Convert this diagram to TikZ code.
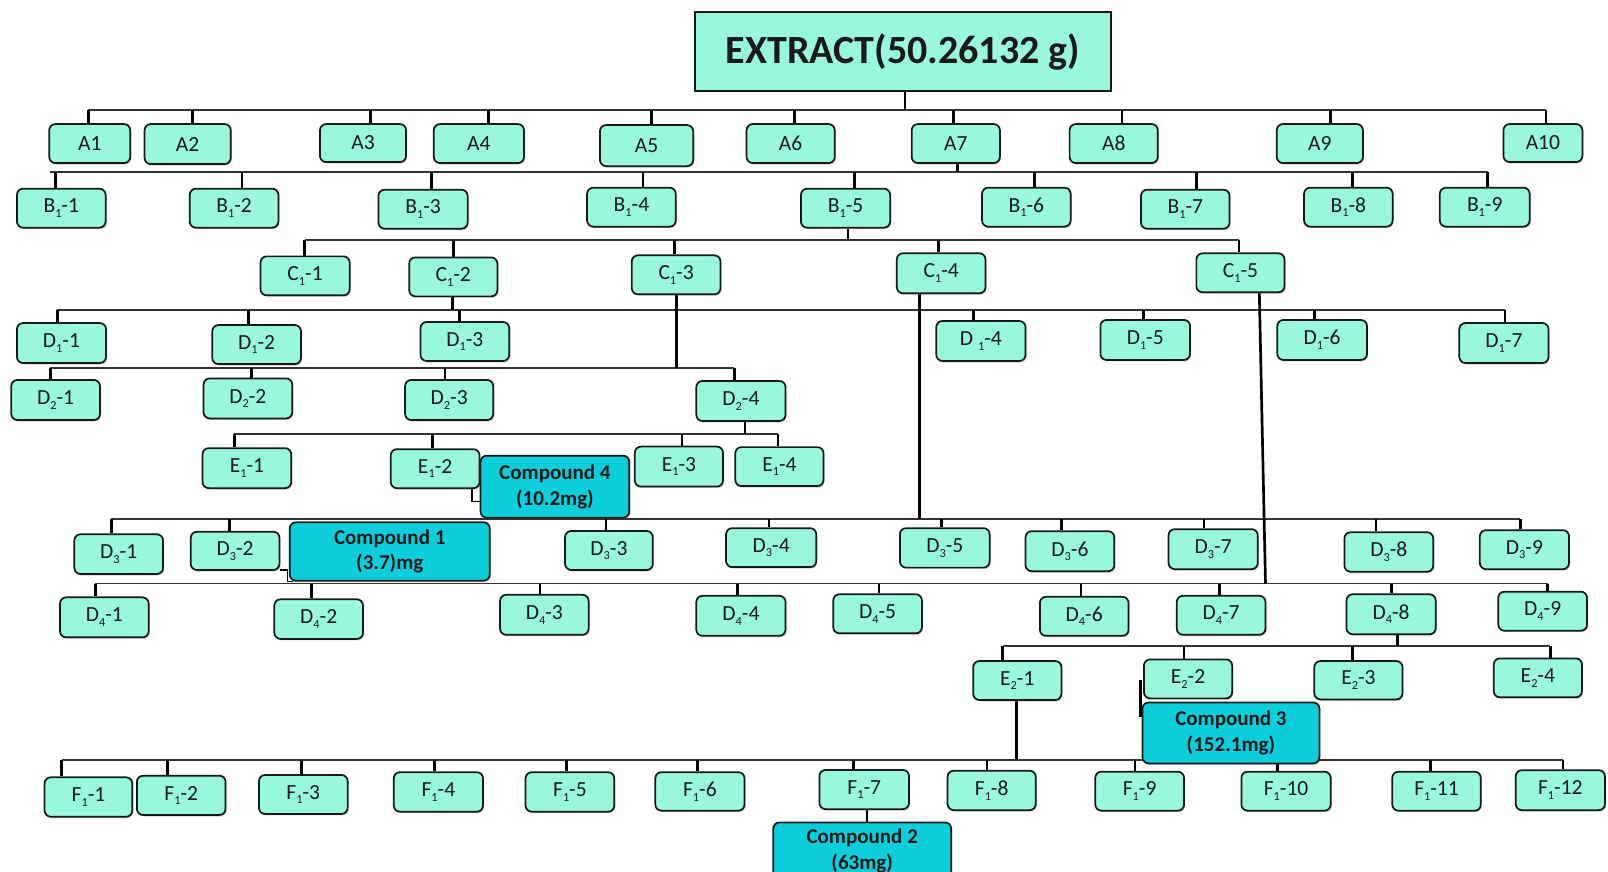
\documentclass[tikz,border=0pt]{standalone}
\usepackage{fontspec}
\setmainfont{Carlito}
\usetikzlibrary{shadows}
\pgfdeclarelayer{bg}
\pgfsetlayers{bg,main}
\definecolor{aqua}{RGB}{152,247,220}
\definecolor{cmpd}{RGB}{12,206,218}
\definecolor{ink}{RGB}{25,25,25}
\tikzset{
 box/.style={draw=ink, line width=1.7pt, rounded corners=6pt, fill=aqua, inner sep=0pt,
   font=\fontsize{21}{24}\selectfont, text=ink,
   drop shadow={shadow xshift=1pt, shadow yshift=-1.5pt, fill=black!60, opacity=0.3}},
 cbox/.style={box, fill=cmpd, font=\bfseries\fontsize{20.5}{25}\selectfont, align=center},
 bus/.style={line width=1.8pt, draw=black!80},
 stub/.style={line width=2.6pt, draw=black},
 link/.style={line width=1.6pt, draw=black},
}
\newcommand\sbs[1]{\raisebox{-0.45ex}{\fontsize{12}{12}\selectfont #1}}
\newcommand\bx[7][box]{\node[#1, minimum width={#5-#3}, minimum height={#6-#4}] (#2) at ({(#3+#5)/2},{(#4+#6)/2}) {#7};}
\newcommand\kid[3]{\path ([xshift=#2]#1.north) coordinate (kk); \draw[stub] (kk) -- (kk |- #3);}
\newcommand\stm[3]{\path ([xshift=#2]#1.south) coordinate (ss); \draw[stub] (ss) -- (ss |- #3);}
\newcommand\busline[5]{\path ([xshift=#3]#2.north) coordinate (ba); \path ([xshift=#5]#4.north) coordinate (bb); \draw[bus] (ba |- #1) -- (bb |- #1);}
\begin{document}
\begin{tikzpicture}[x=1pt,y=-1pt]
\useasboundingbox (0,0) rectangle (1568,850);
\clip (0,0) rectangle (1568,850);
% bus levels
\coordinate (busA) at (0,107);
\coordinate (busB) at (0,168);
\coordinate (busC) at (0,234);
\coordinate (busD1) at (0,302);
\coordinate (busD2) at (0,358.5);
\coordinate (busE1) at (0,423);
\coordinate (busD3) at (0,506);
\coordinate (busD4) at (0,569);
\coordinate (busE2) at (0,630);
\coordinate (busF) at (0,741);
% root
\node[draw=ink, line width=1.8pt, fill=aqua, minimum width=405, minimum height=77, inner sep=0pt,
  font=\bfseries\fontsize{39}{42}\selectfont, text=ink] (ext) at (880.5,50.5) {EXTRACT(50.26132 g)};
% row A
\bx{A1}{48}{121}{127}{159}{A1}
\bx{A2}{141}{121}{225}{160}{A2}
\bx{A3}{312}{121}{396}{158}{A3}
\bx{A4}{423}{121}{511}{159}{A4}
\bx{A5}{585}{122}{676}{162}{A5}
\bx{A6}{728}{121}{814}{159}{A6}
\bx{A7}{889}{121}{975}{159}{A7}
\bx{A8}{1043}{121}{1129}{159}{A8}
\bx{A9}{1245}{121}{1329}{159}{A9}
\bx{A10}{1466}{121}{1543}{158}{A10}
% row B
\bx{b1}{16.5}{184}{103}{222}{B\sbs1-1}
\bx{b2}{185}{184}{271.5}{222}{B\sbs1-2}
\bx{b3}{369}{185}{456}{223}{B\sbs1-3}
\bx{b4}{572.5}{183}{659}{221}{B\sbs1-4}
\bx{b5}{781}{184}{868}{222}{B\sbs1-5}
\bx{b6}{957.6}{183}{1044}{221}{B\sbs1-6}
\bx{b7}{1112.6}{185}{1199}{223}{B\sbs1-7}
\bx{b8}{1271.6}{183}{1358}{221}{B\sbs1-8}
\bx{b9}{1404}{183}{1491.6}{221}{B\sbs1-9}
% row C
\bx{c1}{254}{250}{341}{288}{C\sbs1-1}
\bx{c2}{399}{251}{485}{289}{C\sbs1-2}
\bx{c3}{616}{249}{702.6}{287}{C\sbs1-3}
\bx{c4}{874.5}{247}{961}{286}{C\sbs1-4}
\bx{c5}{1166.6}{247}{1252.6}{285}{C\sbs1-5}
% row D1
\bx{d11}{16.5}{315}{103.4}{354}{D\sbs1-1}
\bx{d12}{207}{317}{293.5}{355}{D\sbs1-2}
\bx{d13}{410}{314}{496.6}{352}{D\sbs1-3}
\bx{d14}{913}{313}{1000}{352}{D \sbs1-4}
\bx{d15}{1073}{312}{1160.5}{351}{D\sbs1-5}
\bx{d16}{1245.5}{312}{1333}{351}{D\sbs1-6}
\bx{d17}{1423}{315}{1510}{354}{D\sbs1-7}
% row D2
\bx{d21}{11}{370.5}{97.5}{409.6}{D\sbs2-1}
\bx{d22}{198.5}{369}{285}{408}{D\sbs2-2}
\bx{d23}{395}{370.5}{481}{409.6}{D\sbs2-3}
\bx{d24}{679}{371.5}{766}{410.5}{D\sbs2-4}
% row E1
\bx{e11}{197.5}{437}{284}{476}{E\sbs1-1}
\bx{e12}{381}{438}{467.6}{476}{E\sbs1-2}
\bx{e13}{619}{435.5}{705}{474.5}{E\sbs1-3}
\bx{e14}{717}{436}{803}{474}{E\sbs1-4}
\bx[cbox]{cp4}{468.6}{444.3}{613.6}{504.8}{Compound 4\\(10.2mg)}
% row D3
\bx{d31}{72.5}{521}{159}{559.7}{D\sbs3-1}
\bx{d32}{186}{518.5}{272.5}{555.8}{D\sbs3-2}
\bx[cbox]{cp1}{282.5}{509.3}{477.6}{566.2}{Compound 1\\(3.7)mg}
\bx{d33}{551}{517.8}{636.6}{555.8}{D\sbs3-3}
\bx{d34}{708}{515}{796}{553}{D\sbs3-4}
\bx{d35}{877.5}{515}{965}{553.5}{D\sbs3-5}
\bx{d36}{1000}{518}{1086.6}{557}{D\sbs3-6}
\bx{d37}{1139.5}{516}{1226.5}{555}{D\sbs3-7}
\bx{d38}{1311}{519}{1397.6}{557.5}{D\sbs3-8}
\bx{d39}{1443}{517}{1530}{555}{D\sbs3-9}
% row D4
\bx{d41}{58.5}{582.5}{145}{621.5}{D\sbs4-1}
\bx{d42}{267.5}{584.4}{354}{623}{D\sbs4-2}
\bx{d43}{487.6}{580}{574}{619}{D\sbs4-3}
\bx{d44}{679}{581}{766}{620}{D\sbs4-4}
\bx{d45}{812.5}{579.5}{899}{617.6}{D\sbs4-5}
\bx{d46}{1014}{582}{1100.5}{620}{D\sbs4-6}
\bx{d47}{1147.5}{581}{1234}{619}{D\sbs4-7}
\bx{d48}{1313}{579.5}{1400}{618.5}{D\sbs4-8}
\bx{d49}{1461}{577}{1547.6}{615}{D\sbs4-9}
% row E2
\bx{e21}{949}{644.6}{1035}{682.6}{E\sbs2-1}
\bx{e22}{1115.5}{643}{1201.5}{681}{E\sbs2-2}
\bx{e23}{1281.6}{644.6}{1367.6}{682}{E\sbs2-3}
\bx{e24}{1456.6}{642}{1542.6}{680}{E\sbs2-4}
\bx[cbox]{cp3}{1114}{685}{1286.6}{744.4}{Compound 3\\(152.1mg)}
% row F
\bx{f1}{43.5}{758}{129}{796.4}{F\sbs1-1}
\bx{f2}{133.5}{756.4}{220}{794.7}{F\sbs1-2}
\bx{f3}{252.5}{755.7}{339}{793.7}{F\sbs1-3}
\bx{f4}{384}{753}{471}{791.5}{F\sbs1-4}
\bx{f5}{512.5}{753}{599}{791.5}{F\sbs1-5}
\bx{f6}{639}{753}{726}{790.5}{F\sbs1-6}
\bx{f7}{799}{750.8}{886.4}{789}{F\sbs1-7}
\bx{f8}{924}{751.5}{1010}{790}{F\sbs1-8}
\bx{f9}{1068}{752.5}{1154.6}{790.5}{F\sbs1-9}
\bx{f10}{1210.5}{752.5}{1297.6}{790.5}{F\sbs1-10}
\bx{f11}{1357.6}{752.5}{1444}{790.5}{F\sbs1-11}
\bx{f12}{1478}{751}{1565}{790}{F\sbs1-12}
\bx[cbox]{cp2}{754}{802}{927.5}{858}{Compound 2\\(63mg)}

\begin{pgfonlayer}{bg}
\fill[white] (0,0) rectangle (1568,850);
% buses
\busline{busA}{A1}{-1.5}{A10}{3}
\busline{busB}{b1}{-11}{b9}{2.8}
\busline{busC}{c1}{-0.5}{c5}{-1.6}
\busline{busD1}{d11}{-4}{d17}{1}
\busline{busD2}{d21}{-5.25}{d24}{-6.5}
\busline{busE1}{e11}{-12.25}{e14}{-1.4}
\busline{busD3}{d31}{-7.25}{d39}{-3.9}
\busline{busD4}{d41}{-8.75}{d49}{4.7}
\busline{busE2}{e21}{-14.4}{e24}{12}
\busline{busF}{f1}{-26.25}{f12}{2.5}
% stubs
\foreach \n/\d in {A1/-1.5,A2/5,A3/7.6,A4/9.6,A5/5,A6/4,A7/-2.5,A8/8,A9/10.6,A10/3} {\kid{\n}{\d}{busA}}
\foreach \n/\d in {b1/-5.75,b2/7.75,b3/8,b4/11.25,b5/8.5,b6/7.7,b7/11.2,b8/3.8,b9/2.8} {\kid{\n}{\d}{busB}}
\foreach \n/\d in {c1/-0.5,c2/0,c3/-1.3,c4/-2.75,c5/-1.6} {\kid{\n}{\d}{busC}}
\foreach \n/\d in {d11/-4,d12/-8.25,d13/-5.3,d14/-7,d15/-2,d16/-7.25,d17/1} {\kid{\n}{\d}{busD1}}
\foreach \n/\d in {d21/-5.25,d22/3.25,d23/-4,d24/-6.5} {\kid{\n}{\d}{busD2}}
\foreach \n/\d in {e11/-12.25,e12/-2.8,e13/3,e14/-1.4} {\kid{\n}{\d}{busE1}}
\foreach \n/\d in {d31/-7.25,d32/-5.75,d33/-2.8,d34/-2,d35/-3.25,d36/-8.3,d37/-9,d38/-12.7,d39/-3.9} {\kid{\n}{\d}{busD3}}
\foreach \n/\d in {d41/-8.75,d42/-6.75,d43/-4.2,d44/-3.5,d45/1.25,d46/-3.25,d47/-1.75,d48/0.5,d49/4.7} {\kid{\n}{\d}{busD4}}
\foreach \n/\d in {e21/-14.4,e22/-3.9,e23/-5.6,e24/12} {\kid{\n}{\d}{busE2}}
\foreach \n/\d in {f1/-26.25,f2/-13.25,f3/-1.75,f4/-3.5,f5/-3.2,f6/-2.5,f7/-10.2,f8/-4.5,f9/-4.7,f10/-8.4,f11/-5.8,f12/2.5} {\kid{\n}{\d}{busF}}
% parent stems
\stm{ext}{2}{busA}
\stm{A7}{1.5}{busB}
\stm{b5}{2.5}{busC}
\stm{c2}{-1}{busD1}
\stm{c3}{0.5}{busD2}
\stm{c4}{-21.25}{busD3}
\path ([xshift=18.4]c5.south) coordinate (t1);
\path ([xshift=24.4]c5.south) coordinate (t2);
\draw[stub] (t1) -- (t2 |- busD4);
\stm{d24}{4}{busE1}
\stm{d48}{6.5}{busE2}
\stm{e21}{-0.5}{busF}
\path ([xshift=2.8]f7.south) coordinate (t3);
\draw[stub] (t3) -- (t3 |- cp2.north);
% compound links
\draw[link] ([xshift=35.7]e12.south) |- ([yshift=-14.5]cp4.west);
\draw[link] ([yshift=1]d32.south east) -- ++(7,0) |- ([xshift=4]cp1.south west);
\draw[stub] ([xshift=-2.5,yshift=-1]e22.west) -- ([xshift=-1,yshift=15.7]cp3.west);
\end{pgfonlayer}
\end{tikzpicture}
\end{document}
